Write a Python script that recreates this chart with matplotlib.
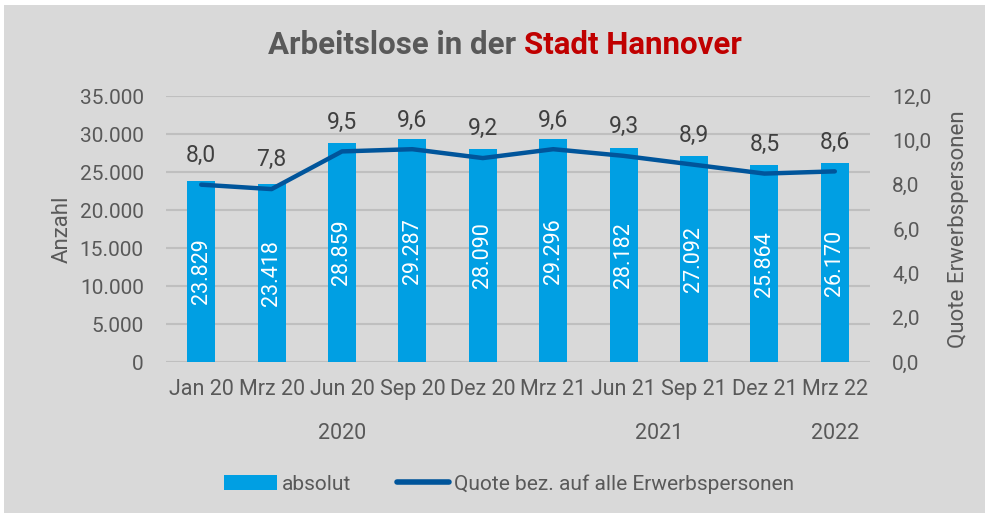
import matplotlib.pyplot as plt
from matplotlib.patches import Rectangle, Patch
from matplotlib.lines import Line2D
import matplotlib.transforms as mtransforms

# Daten
monate = ["Jan 20", "Mrz 20", "Jun 20", "Sep 20", "Dez 20", "Mrz 21", "Jun 21", "Sep 21", "Dez 21", "Mrz 22"]
absolut = [23829, 23418, 28859, 29287, 28090, 29296, 28182, 27092, 25864, 26170]
quote = [8.0, 7.8, 9.5, 9.6, 9.2, 9.6, 9.3, 8.9, 8.5, 8.6]
jahre = ["2020", "2021", "2022"]
jahr_mitte = [2.0, 6.5, 9.0]

GRAU = "#595959"
HELLBLAU = "#009FE3"
DUNKELBLAU = "#00559B"
ROT = "#C00000"
NARROW = ["Liberation Sans Narrow", "Roboto", "DejaVu Sans"]
ROBOTO = ["Roboto", "DejaVu Sans"]

def fmt_de(v):
    return f"{v:,.0f}".replace(",", ".")

fig = plt.figure(figsize=(9.89, 5.18), dpi=100)
fig.patch.set_facecolor("white")
fig.patches.append(Rectangle((4 / 989, 5 / 518), 981 / 989, 508 / 518,
                             transform=fig.transFigure, facecolor="#D9D9D9",
                             edgecolor="none", zorder=-10))

ax = fig.add_axes([166 / 989, 1 - 362 / 518, 704 / 989, 266 / 518])
ax.set_facecolor("none")
x = list(range(len(monate)))

# Balken
ax.bar(x, absolut, width=0.4, color=HELLBLAU, zorder=2)
for xi, v in zip(x, absolut):
    ax.text(xi, v / 2, fmt_de(v), rotation=90, ha="center", va="center",
            color="white", fontsize=15.5, family=ROBOTO, zorder=3)

ax.set_ylim(0, 35000)
ax.set_xlim(-0.5, len(monate) - 0.5)
ax.set_yticks(range(0, 35001, 5000))
ax.set_yticklabels([fmt_de(v) for v in range(0, 35001, 5000)], family=ROBOTO,
                   fontsize=15, color=GRAU)
ax.grid(axis="y", color="#BFBFBF", linewidth=1.5, zorder=0)
ax.set_axisbelow(True)
ax.tick_params(axis="y", length=0, pad=16)
ax.tick_params(axis="x", length=0, pad=12)
ax.set_xticks(x)
ax.set_xticklabels(monate, family=NARROW, fontsize=15.5, color=GRAU)
for s in ax.spines.values():
    s.set_visible(False)
ax.set_ylabel("Anzahl", family=ROBOTO, fontsize=16, color=GRAU, labelpad=5)

# Jahreszahlen
trans = mtransforms.blended_transform_factory(ax.transData, ax.transAxes)
for j, m in zip(jahre, jahr_mitte):
    ax.text(m, -0.267, j, transform=trans, ha="center", va="center",
            family=NARROW, fontsize=15.5, color=GRAU)

# Quote (rechte Achse)
ax2 = ax.twinx()
ax2.plot(x, quote, color=DUNKELBLAU, linewidth=3.2, solid_capstyle="round", zorder=4)
for xi, q in zip(x, quote):
    ax2.annotate(f"{q:.1f}".replace(".", ","), (xi, q), xytext=(0, 21),
                 textcoords="offset points", ha="center", va="center",
                 family=ROBOTO, fontsize=16.5, color="#404040")
ax2.set_ylim(0, 12)
ax2.set_yticks(range(0, 13, 2))
ax2.set_yticklabels([f"{v:.1f}".replace(".", ",") for v in range(0, 13, 2)],
                    family=ROBOTO, fontsize=15, color=GRAU)
ax2.tick_params(axis="y", length=0, pad=16)
for s in ax2.spines.values():
    s.set_visible(False)
ax2.set_ylabel("Quote Erwerbspersonen", family=ROBOTO, fontsize=16, color=GRAU, labelpad=12)

# Titel
cx = 505 / 989
t1 = fig.text(cx, 1 - 45 / 518, "Arbeitslose in der ", ha="right", va="center",
              family=NARROW, fontsize=22.5, fontweight="bold", color=GRAU)
fig.canvas.draw()
renderer = fig.canvas.get_renderer()
w1 = t1.get_window_extent(renderer=renderer).width
t2 = fig.text(cx, 1 - 45 / 518, "Stadt Hannover", ha="left", va="center",
              family=NARROW, fontsize=22.5, fontweight="bold", color=ROT)
w2 = t2.get_window_extent(renderer=renderer).width
shift = (w1 - w2) / 2 / fig.bbox.width
t1.set_x(cx + shift)
t2.set_x(cx + shift)

# Legende
handles = [Patch(facecolor=HELLBLAU, edgecolor="none"),
           Line2D([0], [0], color=DUNKELBLAU, linewidth=4, solid_capstyle="round")]
fig.legend(handles, ["absolut", "Quote bez. auf alle Erwerbspersonen"],
           loc="center", bbox_to_anchor=(0.515, 1 - 484 / 518), ncol=2,
           frameon=False, handlelength=2.5, handletextpad=0.25, columnspacing=2.2,
           prop={"family": NARROW, "size": 15}, labelcolor=GRAU)

fig.savefig("out.png", dpi=100)
